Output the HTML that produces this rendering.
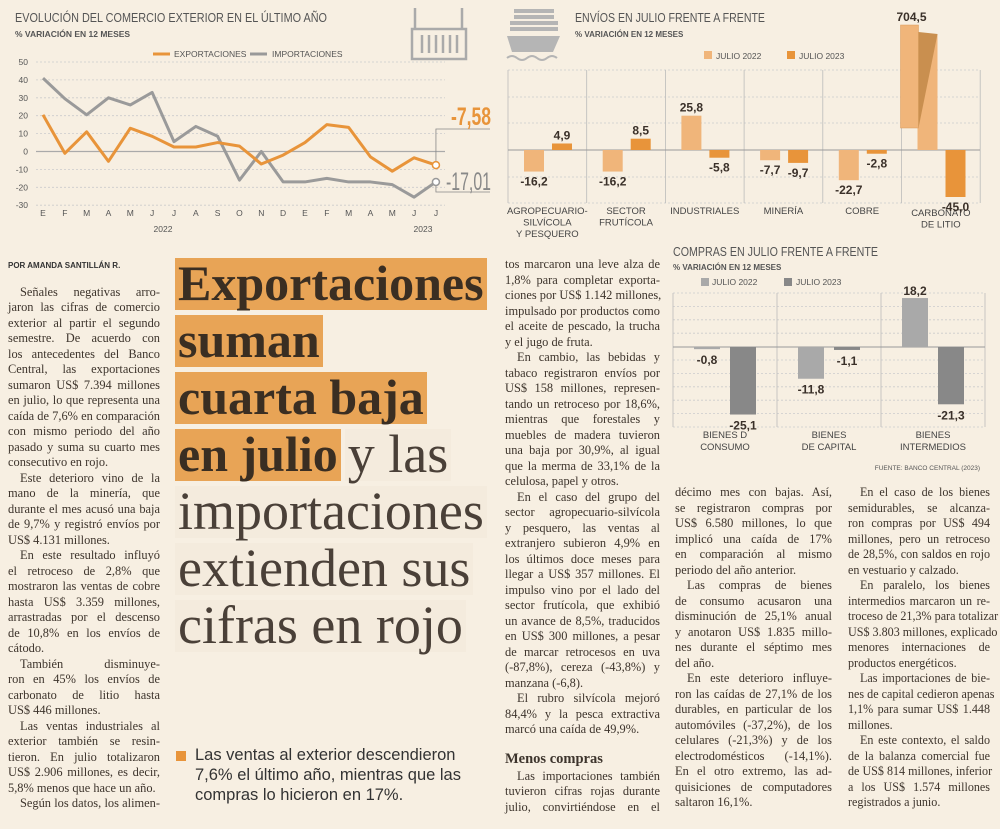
<!DOCTYPE html>
<html><head><meta charset="utf-8">
<style>
html,body{margin:0;padding:0}
body{width:1000px;height:829px;background:#f7efe2;position:relative;overflow:hidden;font-family:"Liberation Serif",serif;color:#3a3029}
.col{position:absolute;font-size:12.4px;line-height:15.5px;color:#3d342c}
.col div{text-align:justify;text-align-last:justify;white-space:nowrap;height:15.5px;overflow:visible}
.col div.e{text-align-last:left}
.col div.i{padding-left:12px}
.hl{position:absolute;left:175px;line-height:57px;white-space:nowrap}
.hl div{height:57px}
.hl span{display:inline-block;height:52px;line-height:50px;vertical-align:top}
.hl span.b{background:#e8a456;font-weight:bold;color:#3a2e22;padding:0 3px;font-size:50px}
.hl span.l{background:#f4ebdd;color:#4a4038;padding:0 3px;font-size:54px}
svg{position:absolute;left:0;top:0}
svg text{font-family:"Liberation Sans Narrow","Liberation Sans",sans-serif}
</style></head><body>
<svg id="charts" width="1000" height="480"></svg>

<div class="col" style="left:8px;top:258px;width:152px">
<div class="e" style="font-family:'Liberation Sans',sans-serif;font-weight:bold;font-size:8px;color:#333">POR AMANDA SANTILLÁN R.</div>
<div class="e" style="height:11px"></div>
<div class="i">Señales negativas arro-</div><div>jaron las cifras de comercio</div><div>exterior al partir el segundo</div><div>semestre. De acuerdo con</div><div>los antecedentes del Banco</div><div>Central, las exportaciones</div><div>sumaron US$ 7.394 millones</div><div>en julio, lo que representa una</div><div>caída de 7,6% en comparación</div><div>con mismo periodo del año</div><div>pasado y suma su cuarto mes</div><div class="e">consecutivo en rojo.</div>
<div class="i">Este deterioro vino de la</div><div>mano de la minería, que</div><div>durante el mes acusó una baja</div><div>de 9,7% y registró envíos por</div><div class="e">US$ 4.131 millones.</div>
<div class="i">En este resultado influyó</div><div>el retroceso de 2,8% que</div><div>mostraron las ventas de cobre</div><div>hasta US$ 3.359 millones,</div><div>arrastradas por el descenso</div><div>de 10,8% en los envíos de</div><div class="e">cátodo.</div>
<div class="i">También disminuye-</div><div>ron en 45% los envíos de</div><div>carbonato de litio hasta</div><div class="e">US$ 446 millones.</div>
<div class="i">Las ventas industriales al</div><div>exterior también se resin-</div><div>tieron. En julio totalizaron</div><div>US$ 2.906 millones, es decir,</div><div class="e">5,8% menos que hace un año.</div>
<div class="i">Según los datos, los alimen-</div>
</div>

<div class="hl" style="top:258px">
<div><span class="b">Exportaciones</span></div>
<div><span class="b">suman</span></div>
<div><span class="b">cuarta baja</span></div>
<div><span class="b">en julio</span> <span class="l">y las</span></div>
<div><span class="l">importaciones</span></div>
<div><span class="l">extienden sus</span></div>
<div><span class="l">cifras en rojo</span></div>
</div>

<div style="position:absolute;left:176px;top:751px;width:10px;height:10px;background:#e8943a"></div>
<div style="position:absolute;left:195px;top:745px;width:290px;font-family:'Liberation Sans',sans-serif;font-size:16.5px;line-height:20px;color:#333;white-space:nowrap">Las ventas al exterior descendieron<br>7,6% el último año, mientras que las<br>compras lo hicieron en 17%.</div>

<div class="col" style="left:505px;top:257px;width:155px">
<div>tos marcaron una leve alza de</div><div>1,8% para completar exporta-</div><div>ciones por US$ 1.142 millones,</div><div>impulsado por productos como</div><div>el aceite de pescado, la trucha</div><div class="e">y el jugo de fruta.</div>
<div class="i">En cambio, las bebidas y</div><div>tabaco registraron envíos por</div><div>US$ 158 millones, represen-</div><div>tando un retroceso por 18,6%,</div><div>mientras que forestales y</div><div>muebles de madera tuvieron</div><div>una baja por 30,9%, al igual</div><div>que la merma de 33,1% de la</div><div class="e">celulosa, papel y otros.</div>
<div class="i">En el caso del grupo del</div><div>sector agropecuario-silvícola</div><div>y pesquero, las ventas al</div><div>extranjero subieron 4,9% en</div><div>los últimos doce meses para</div><div>llegar a US$ 357 millones. El</div><div>impulso vino por el lado del</div><div>sector frutícola, que exhibió</div><div>un avance de 8,5%, traducidos</div><div>en US$ 300 millones, a pesar</div><div>de marcar retrocesos en uva</div><div>(-87,8%), cereza (-43,8%) y</div><div class="e">manzana (-6,8).</div>
<div class="i">El rubro silvícola mejoró</div><div>84,4% y la pesca extractiva</div><div class="e">marcó una caída de 49,9%.</div>
<div class="e" style="height:14px"></div>
<div class="e" style="font-weight:bold;font-size:14.5px;height:17px">Menos compras</div>
<div class="i">Las importaciones también</div><div>tuvieron cifras rojas durante</div><div>julio, convirtiéndose en el</div>
</div>

<div class="col" style="left:675px;top:485px;width:157px">
<div>décimo mes con bajas. Así,</div><div>se registraron compras por</div><div>US$ 6.580 millones, lo que</div><div>implicó una caída de 17%</div><div>en comparación al mismo</div><div class="e">periodo del año anterior.</div>
<div class="i">Las compras de bienes</div><div>de consumo acusaron una</div><div>disminución de 25,1% anual</div><div>y anotaron US$ 1.835 millo-</div><div>nes durante el séptimo mes</div><div class="e">del año.</div>
<div class="i">En este deterioro influye-</div><div>ron las caídas de 27,1% de los</div><div>durables, en particular de los</div><div>automóviles (-37,2%), de los</div><div>celulares (-21,3%) y de los</div><div>electrodomésticos (-14,1%).</div><div>En el otro extremo, las ad-</div><div>quisiciones de computadores</div><div class="e">saltaron 16,1%.</div>
</div>

<div class="col" style="left:848px;top:485px;width:142px;font-size:12.1px">
<div class="i">En el caso de los bienes</div><div>semidurables, se alcanza-</div><div>ron compras por US$ 494</div><div>millones, pero un retroceso</div><div>de 28,5%, con saldos en rojo</div><div class="e">en vestuario y calzado.</div>
<div class="i">En paralelo, los bienes</div><div>intermedios marcaron un re-</div><div>troceso de 21,3% para totalizar</div><div>US$ 3.803 millones, explicado</div><div>menores internaciones de</div><div class="e">productos energéticos.</div>
<div class="i">Las importaciones de bie-</div><div>nes de capital cedieron apenas</div><div>1,1% para sumar US$ 1.448</div><div class="e">millones.</div>
<div class="i">En este contexto, el saldo</div><div>de la balanza comercial fue</div><div>de US$ 814 millones, inferior</div><div>a los US$ 1.574 millones</div><div class="e">registrados a junio.</div>
</div>

<script>
// ---- line chart data ----
const months = ["E","F","M","A","M","J","J","A","S","O","N","D","E","F","M","A","M","J","J"];
const exportsSeries = [20.5,-1,11,-5.5,13,8.5,2.5,2.5,5,3,-7,-2,5,15,13.5,-3,-11,-3.5,-7.58];
const importsSeries = [41,29.5,20.5,30,26,33,5.5,14,8.5,-16,0,-17,-17,-15,-17,-17,-18.5,-25.5,-17.01];
const lineTicks = [50,40,30,20,10,0,-10,-20,-30];
// ---- envios chart data ----
const envCats = [["AGROPECUARIO-","SILVÍCOLA","Y PESQUERO"],["SECTOR","FRUTÍCOLA"],["INDUSTRIALES"],["MINERÍA"],["COBRE"],["CARBONATO","DE LITIO"]];
const env2022 = [-16.2,-16.2,25.8,-7.7,-22.7,704.5];
const env2023 = [4.9,8.5,-5.8,-9.7,-2.8,-45.0];
const envLabels2022 = ["-16,2","-16,2","25,8","-7,7","-22,7","704,5"];
const envLabels2023 = ["4,9","8,5","-5,8","-9,7","-2,8","-45,0"];
// ---- compras chart data ----
const comCats = [["BIENES D","CONSUMO"],["BIENES","DE CAPITAL"],["BIENES","INTERMEDIOS"]];
const com2022 = [-0.8,-11.8,18.2];
const com2023 = [-25.1,-1.1,-21.3];
const comLabels2022 = ["-0,8","-11,8","18,2"];
const comLabels2023 = ["-25,1","-1,1","-21,3"];

const svg = document.getElementById('charts');
const NS = "http://www.w3.org/2000/svg";
function mk(tag, attrs, parent){const e=document.createElementNS(NS,tag);for(const k in attrs)e.setAttribute(k,attrs[k]);(parent||svg).appendChild(e);return e;}
function tx(x,y,s,attrs){const e=mk('text',Object.assign({x:x,y:y},attrs));e.textContent=s;return e;}

// ===== LINE CHART =====
const ly = v => 151.5 - v*1.79;
const lx = i => 43 + i*21.83;
let t;
t=tx(15,22,"EVOLUCIÓN DEL COMERCIO EXTERIOR EN EL ÚLTIMO AÑO",{"font-size":12.5,fill:"#555",textLength:312,lengthAdjust:"spacingAndGlyphs"});


t=tx(15,37,"% VARIACIÓN EN 12 MESES",{"font-size":8.5,fill:"#555","font-weight":"bold"});


const ic=mk('g',{stroke:"#aaa",fill:"none","stroke-width":2.5});


mk('rect',{x:412,y:29,width:54,height:30},ic);
mk('line',{x1:415,y1:8,x2:415,y2:29},ic);mk('line',{x1:462,y1:8,x2:462,y2:29},ic);
for(let k=0;k<6;k++)mk('line',{x1:422+k*7,y1:35,x2:422+k*7,y2:53},ic);
let lg=mk('line',{x1:153,y1:54,x2:170,y2:54,stroke:"#e8943a","stroke-width":3});


t=tx(174,57,"EXPORTACIONES",{"font-size":8.5,fill:"#555"});


lg=mk('line',{x1:250,y1:54,x2:267,y2:54,stroke:"#999","stroke-width":3});


t=tx(272,57,"IMPORTACIONES",{"font-size":8.5,fill:"#555"});


lineTicks.forEach(v=>{
  const g=mk('line',{x1:36,y1:ly(v),x2:445,y2:ly(v),stroke:v===0?"#aaa":"#ccc","stroke-width":v===0?1.2:0.8,"stroke-dasharray":v===0?"":"2,2"});
  
  
  const tl=tx(28,ly(v)+3,String(v),{"font-size":8.5,fill:"#555","text-anchor":"end"});
  
  
});
months.forEach((m,i)=>{
  const tl=tx(lx(i),216,m,{"font-size":8.5,fill:"#555","text-anchor":"middle"});
  
  
});
t=tx(163,232,"2022",{"font-size":8.5,fill:"#555","text-anchor":"middle"});


t=tx(423,232,"2023",{"font-size":8.5,fill:"#555","text-anchor":"middle"});


function poly(arr,color,name){
  const p=mk('polyline',{points:arr.map((v,i)=>lx(i)+","+ly(v)).join(" "),fill:"none",stroke:color,"stroke-width":3,"stroke-linejoin":"round"});
  
  
}
poly(importsSeries,"#9a9a9a","importaciones-line");
poly(exportsSeries,"#e8943a","exportaciones-line");
const n=months.length-1;
const ex=lx(n), eyE=ly(exportsSeries[n]), eyI=ly(importsSeries[n]);
mk('polyline',{points:`${ex},${eyE} ${ex},129 490,129`,fill:"none",stroke:"#888","stroke-width":0.8});
mk('polyline',{points:`${ex},${eyI} ${ex},192 490,192`,fill:"none",stroke:"#888","stroke-width":0.8});
let c=mk('circle',{cx:ex,cy:eyE,r:3.5,fill:"#fff",stroke:"#e8943a","stroke-width":1.5});


c=mk('circle',{cx:ex,cy:eyI,r:3.5,fill:"#fff",stroke:"#999","stroke-width":1.5});


t=tx(451,125,"-7,58",{"font-size":25,fill:"#e8943a","font-weight":"bold",textLength:40,lengthAdjust:"spacingAndGlyphs"});


t=tx(446,190,"-17,01",{"font-size":25,fill:"#888",textLength:45,lengthAdjust:"spacingAndGlyphs"});



// ===== ENVIOS CHART =====
const eZero=150, eScale=1.33, eX0=508, eGW=78.7;
const ey = v => Math.max(25, Math.min(197, eZero - v*eScale));
t=tx(575,22,"ENVÍOS EN JULIO FRENTE A FRENTE",{"font-size":12.5,fill:"#555",textLength:190,lengthAdjust:"spacingAndGlyphs"});


t=tx(575,37,"% VARIACIÓN EN 12 MESES",{"font-size":8,fill:"#555","font-weight":"bold"});


const sh=mk('g',{fill:"#b5b5b5"});


for(let r=0;r<4;r++)mk('rect',{x:510+ (r<2?4:0),y:9+r*6,width:r<2?40:48,height:4},sh);
mk('path',{d:"M507,36 L560,36 L553,52 L512,52 Z"},sh);
mk('path',{d:"M507,58 q5,-4 10,0 q5,4 10,0 q5,-4 10,0 q5,4 10,0 q5,-4 10,0",fill:"none",stroke:"#b5b5b5","stroke-width":2},sh);
let sq=mk('rect',{x:704,y:51,width:8,height:8,fill:"#f0b57a"});


t=tx(716,59,"JULIO 2022",{"font-size":8.5,fill:"#555"});


sq=mk('rect',{x:787,y:51,width:8,height:8,fill:"#e8943a"});


t=tx(799,59,"JULIO 2023",{"font-size":8.5,fill:"#555"});


[70,97,123,177,203].forEach(y=>{const g=mk('line',{x1:eX0,y1:y,x2:980,y2:y,stroke:"#ccc","stroke-width":0.8,"stroke-dasharray":"2,2"});

});
for(let k=0;k<=6;k++){mk('line',{x1:eX0+k*eGW,y1:70,x2:eX0+k*eGW,y2:203,stroke:"#bbb","stroke-width":0.8});}
mk('line',{x1:eX0,y1:eZero,x2:980,y2:eZero,stroke:"#999","stroke-width":1});
function vlabel(x,y,s,name){const l=tx(x,y,s,{"font-size":12,fill:"#3a3029","font-weight":"bold","text-anchor":"middle"});

}
envCats.forEach((cat,i)=>{
  const gx=eX0+i*eGW;
  cat.forEach((s,j)=>{const l=tx(gx+eGW/2,(i===5?216:214)+j*11.5,s,{"font-size":9.5,fill:"#444","text-anchor":"middle"});
  
  });
  [[env2022,envLabels2022,16,"#f0b57a","2022"],[env2023,envLabels2023,44,"#e8943a","2023"]].forEach(([arr,labs,off,col,yr])=>{
    const v=arr[i], y=ey(v), top=Math.min(y,eZero), h=Math.abs(y-eZero);
    const b=mk('rect',{x:gx+off,y:top,width:20,height:h,fill:col});
    
    
    const brk = (eZero - v*eScale) < 25;
    if(brk){
      const bx=mk('rect',{x:gx-1,y:25,width:18,height:103,fill:col,stroke:"#d99a5a","stroke-width":0.5});
      
      
      mk('path',{d:`M${gx+17},128 L${gx+36},34 L${gx+17},32 Z`,fill:"#c98f4f"});
      b.setAttribute('y',34);b.setAttribute('height',eZero-34);
      vlabel(gx+10,21,labs[i],'envios-value-label');
    } else if(v>=0) vlabel(gx+off+10,top-4,labs[i],'envios-value-label');
    else vlabel(gx+off+10,Math.min(y+14,212),labs[i],'envios-value-label');
  });
});

// ===== COMPRAS CHART =====
const cZero=347, cScale=2.69, cX0=673, cGW=104;
const cy = v => cZero - v*cScale;
t=tx(673,256,"COMPRAS EN JULIO FRENTE A FRENTE",{"font-size":12.5,fill:"#555",textLength:205,lengthAdjust:"spacingAndGlyphs"});


t=tx(673,270,"% VARIACIÓN EN 12 MESES",{"font-size":8,fill:"#555","font-weight":"bold"});


sq=mk('rect',{x:701,y:278,width:8,height:8,fill:"#a9a9a9"});


t=tx(712,285,"JULIO 2022",{"font-size":8.5,fill:"#555"});


sq=mk('rect',{x:784,y:278,width:8,height:8,fill:"#888"});


t=tx(796,285,"JULIO 2023",{"font-size":8.5,fill:"#555"});


for(let k=0;k<=10;k++){const y=293+k*13.4;if(Math.abs(y-cZero)<2)continue;
  const g=mk('line',{x1:cX0,y1:y,x2:985,y2:y,stroke:"#ccc","stroke-width":0.8,"stroke-dasharray":"2,2"});
  
  }
for(let k=0;k<=3;k++)mk('line',{x1:cX0+k*cGW,y1:293,x2:cX0+k*cGW,y2:427,stroke:"#bbb","stroke-width":0.8});
mk('line',{x1:cX0,y1:cZero,x2:985,y2:cZero,stroke:"#999","stroke-width":1});
comCats.forEach((cat,i)=>{
  const gx=cX0+i*cGW;
  cat.forEach((s,j)=>{const l=tx(gx+cGW/2,438+j*12,s,{"font-size":9.5,fill:"#444","text-anchor":"middle"});
  
  });
  [[com2022,comLabels2022,21,"#a9a9a9","2022"],[com2023,comLabels2023,57,"#888","2023"]].forEach(([arr,labs,off,col,yr])=>{
    const v=arr[i], y=cy(v), top=Math.min(y,cZero), h=Math.max(Math.abs(y-cZero),1.5);
    const b=mk('rect',{x:gx+off,y:top,width:26,height:h,fill:col});
    
    
    if(v>=0) vlabel(gx+off+13,top-3,labs[i],'compras-value-label');
    else vlabel(gx+off+13,y+15,labs[i],'compras-value-label');
  });
});
t=tx(980,470,"FUENTE: BANCO CENTRAL (2023)",{"font-size":6.5,fill:"#555","text-anchor":"end"});


</script>
</body></html>
